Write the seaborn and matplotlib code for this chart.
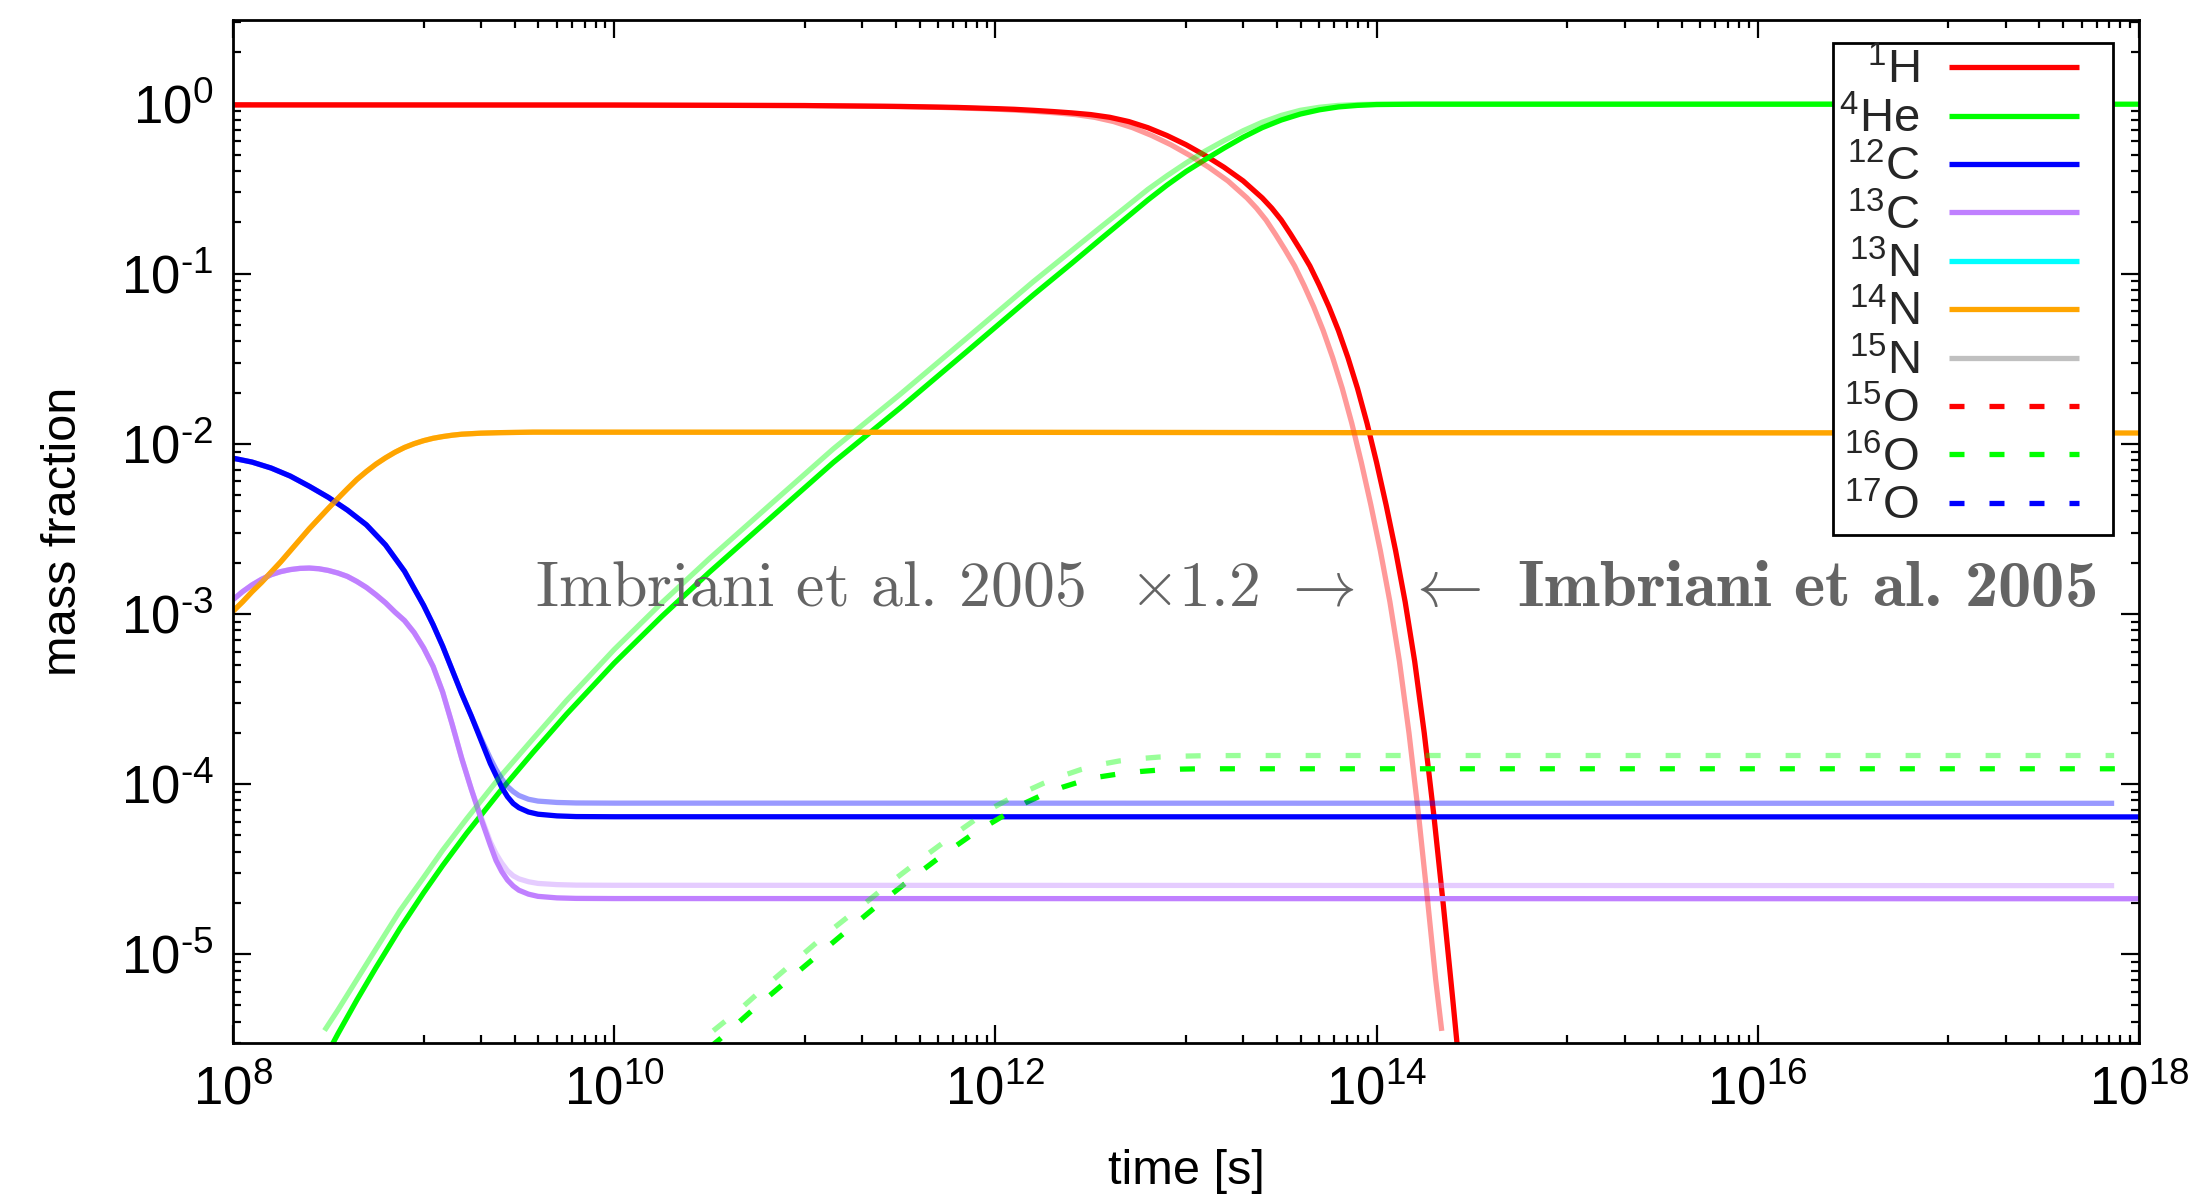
import numpy as np
import pandas as pd
import matplotlib
matplotlib.use("Agg")
import matplotlib.pyplot as plt
import seaborn as sns
from matplotlib.lines import Line2D
from matplotlib.legend_handler import HandlerLine2D
from matplotlib.ticker import FixedLocator, NullFormatter

# ---------------- data (log10 time [s], log10 mass fraction) ----------------
# Imbriani et al. 2005 (bright curves)
h1_logt = [8.0, 10.0, 11.0, 11.5, 11.8, 12.0, 12.1, 12.2, 12.3, 12.4, 12.5, 12.6, 12.7, 12.8, 12.9,
           13.0, 13.1, 13.2, 13.3, 13.4, 13.45, 13.5, 13.55, 13.6, 13.65, 13.7, 13.75, 13.8, 13.85,
           13.9, 13.95, 14.0, 14.05, 14.1, 14.15, 14.2, 14.25, 14.3, 14.35, 14.4, 14.45]
h1_logx = [-0.008, -0.009, -0.012, -0.017, -0.023, -0.03, -0.034, -0.04, -0.047, -0.055, -0.065,
           -0.081, -0.106, -0.142, -0.188, -0.242, -0.305, -0.375, -0.455, -0.555, -0.615, -0.685,
           -0.77, -0.86, -0.955, -1.07, -1.195, -1.335, -1.495, -1.675, -1.88, -2.11, -2.36, -2.63,
           -2.93, -3.28, -3.70, -4.18, -4.71, -5.27, -5.85]
he4_logt = [8.45, 8.55, 8.65, 8.75, 8.876, 9.0, 9.1, 9.226, 9.4, 9.574, 9.75, 10.0, 10.25, 10.5,
            10.837, 11.15, 11.5, 11.849, 12.198, 12.4, 12.549, 12.7, 12.8, 12.9, 13.0, 13.1, 13.2,
            13.3, 13.4, 13.5, 13.6, 13.7, 13.8, 13.9, 14.0, 14.2, 18.0]
he4_logx = [-5.68, -5.47, -5.27, -5.08, -4.85, -4.64, -4.48, -4.29, -4.045, -3.815, -3.59, -3.29,
            -3.015, -2.755, -2.42, -2.11, -1.79, -1.459, -1.126, -0.94, -0.80, -0.66, -0.567, -0.48,
            -0.40, -0.33, -0.262, -0.198, -0.142, -0.097, -0.062, -0.037, -0.02, -0.011, -0.006,
            -0.004, -0.004]
c12_logt = [8.0, 8.1, 8.2, 8.3, 8.4, 8.5, 8.6, 8.7, 8.8, 8.9, 9.0, 9.05, 9.1, 9.15, 9.2, 9.25, 9.3,
            9.35, 9.38, 9.41, 9.44, 9.47, 9.5, 9.55, 9.6, 9.7, 9.8, 10.0, 18.0]
c12_logx = [-2.085, -2.108, -2.143, -2.19, -2.25, -2.315, -2.39, -2.477, -2.595, -2.75, -2.95, -3.064,
            -3.19, -3.33, -3.47, -3.60, -3.74, -3.88, -3.95, -4.02, -4.075, -4.115, -4.14, -4.165,
            -4.178, -4.188, -4.192, -4.193, -4.194]
c13_logt = [8.0, 8.05, 8.1, 8.15, 8.2, 8.25, 8.3, 8.35, 8.4, 8.45, 8.5, 8.55, 8.6, 8.65, 8.7, 8.75,
            8.8, 8.85, 8.9, 8.95, 9.0, 9.05, 9.1, 9.15, 9.2, 9.25, 9.3, 9.35, 9.38, 9.41, 9.44, 9.47,
            9.5, 9.55, 9.6, 9.7, 9.8, 10.0, 18.0]
c13_logx = [-2.917, -2.87, -2.83, -2.797, -2.77, -2.752, -2.74, -2.733, -2.731, -2.735, -2.745, -2.76,
            -2.78, -2.81, -2.845, -2.888, -2.935, -2.99, -3.04, -3.11, -3.20, -3.31, -3.46, -3.65,
            -3.85, -4.03, -4.20, -4.36, -4.45, -4.515, -4.565, -4.60, -4.625, -4.648, -4.661, -4.670,
            -4.673, -4.674, -4.675]
n14_logt = [8.0, 8.05, 8.1, 8.15, 8.2, 8.25, 8.3, 8.35, 8.4, 8.45, 8.5, 8.55, 8.6, 8.65, 8.7, 8.75,
            8.8, 8.85, 8.9, 8.95, 9.0, 9.05, 9.1, 9.15, 9.2, 9.3, 9.4, 9.574, 12.0, 14.0, 18.0]
n14_logx = [-2.985, -2.93, -2.87, -2.815, -2.755, -2.695, -2.63, -2.565, -2.5, -2.44, -2.38, -2.322,
            -2.265, -2.21, -2.163, -2.12, -2.083, -2.05, -2.022, -2.0, -1.982, -1.968, -1.958, -1.95,
            -1.944, -1.938, -1.935, -1.932, -1.933, -1.935, -1.937]
o16_logt = [10.50, 10.555, 10.73, 10.896, 11.053, 11.219, 11.377, 11.543, 11.709, 11.884, 12.068,
            12.16, 12.252, 12.35, 12.453, 12.55, 12.654, 12.76, 12.864, 12.97, 13.073, 18.0]
o16_logx = [-5.55, -5.50, -5.325, -5.168, -5.021, -4.865, -4.718, -4.571, -4.43, -4.293, -4.170,
            -4.11, -4.062, -4.02, -3.984, -3.958, -3.94, -3.927, -3.918, -3.913, -3.911, -3.911]

# Imbriani et al. 2005 x1.2 (light curves)
h1b_logt = [8.0, 10.0, 11.0, 11.42, 11.72, 11.92, 12.02, 12.12, 12.22, 12.32, 12.42, 12.52, 12.62,
            12.72, 12.82, 12.92, 13.02, 13.12, 13.22, 13.32, 13.37, 13.42, 13.47, 13.52, 13.57, 13.62,
            13.67, 13.72, 13.77, 13.82, 13.87, 13.92, 13.97, 14.02, 14.07, 14.12, 14.17, 14.22,
            14.27, 14.31, 14.342]
h1b_logx = [-0.008, -0.009, -0.012, -0.017, -0.023, -0.03, -0.034, -0.04, -0.047, -0.055, -0.065,
            -0.081, -0.106, -0.142, -0.188, -0.242, -0.305, -0.375, -0.455, -0.555, -0.615, -0.685,
            -0.77, -0.86, -0.955, -1.07, -1.195, -1.335, -1.495, -1.675, -1.88, -2.11, -2.36, -2.63,
            -2.93, -3.28, -3.70, -4.18, -4.71, -5.15, -5.452]
he4b_logt = [8.48, 8.55, 8.65, 8.75, 8.876, 9.0, 9.1, 9.226, 9.4, 9.574, 9.75, 10.0, 10.25, 10.5,
             10.837, 11.15, 11.5, 11.849, 12.198, 12.4, 12.549, 12.7, 12.8, 12.9, 13.0, 13.1, 13.2,
             13.3, 13.4, 13.5, 13.6, 13.7, 13.8, 13.9, 14.0, 17.87]
he4b_logx = [-5.45, -5.33, -5.15, -4.97, -4.745, -4.55, -4.39, -4.205, -3.96, -3.735, -3.51, -3.21,
             -2.935, -2.675, -2.34, -2.03, -1.71, -1.38, -1.048, -0.865, -0.73, -0.595, -0.505,
             -0.425, -0.35, -0.28, -0.218, -0.16, -0.11, -0.07, -0.04, -0.022, -0.011, -0.006,
             -0.004, -0.004]
c12b_logt = [8.0, 8.1, 8.2, 8.3, 8.4, 8.5, 8.6, 8.7, 8.8, 8.9, 9.0, 9.05, 9.1, 9.15, 9.2, 9.25, 9.3,
             9.35, 9.38, 9.41, 9.44, 9.47, 9.5, 9.55, 9.6, 9.7, 9.8, 10.0, 17.87]
c12b_logx = [-2.085, -2.108, -2.143, -2.19, -2.25, -2.315, -2.39, -2.477, -2.595, -2.75, -2.95, -3.064,
             -3.19, -3.33, -3.47, -3.60, -3.73, -3.85, -3.915, -3.97, -4.015, -4.045, -4.068, -4.09,
             -4.101, -4.109, -4.112, -4.113, -4.114]
c13b_logt = [8.0, 8.05, 8.1, 8.15, 8.2, 8.25, 8.3, 8.35, 8.4, 8.45, 8.5, 8.55, 8.6, 8.65, 8.7, 8.75,
             8.8, 8.85, 8.9, 8.95, 9.0, 9.05, 9.1, 9.15, 9.2, 9.25, 9.3, 9.35, 9.38, 9.41, 9.44, 9.47,
             9.5, 9.55, 9.6, 9.7, 9.8, 10.0, 17.87]
c13b_logx = [-2.917, -2.87, -2.83, -2.797, -2.77, -2.752, -2.74, -2.733, -2.731, -2.735, -2.745, -2.76,
             -2.78, -2.81, -2.845, -2.888, -2.935, -2.99, -3.04, -3.11, -3.20, -3.31, -3.46, -3.65,
             -3.85, -4.03, -4.19, -4.34, -4.41, -4.465, -4.51, -4.54, -4.558, -4.575, -4.585, -4.592,
             -4.595, -4.596, -4.598]
n14b_logt = [8.0, 8.05, 8.1, 8.15, 8.2, 8.25, 8.3, 8.35, 8.4, 8.45, 8.5, 8.55, 8.6, 8.65, 8.7, 8.75,
             8.8, 8.85, 8.9, 8.95, 9.0, 9.05, 9.1, 9.15, 9.2, 9.3, 9.4, 9.574, 12.0, 14.0, 17.87]
n14b_logx = [-2.985, -2.93, -2.87, -2.815, -2.755, -2.695, -2.63, -2.565, -2.5, -2.44, -2.38, -2.322,
             -2.265, -2.21, -2.163, -2.12, -2.083, -2.05, -2.022, -2.0, -1.982, -1.968, -1.958, -1.95,
             -1.944, -1.938, -1.935, -1.932, -1.933, -1.935, -1.937]
o16b_logt = [10.52, 10.66, 10.817, 10.974, 11.132, 11.298, 11.464, 11.631, 11.797, 11.97, 12.07,
             12.163, 12.255, 12.347, 12.45, 12.549, 12.65, 12.759, 12.86, 12.968, 13.1, 13.3, 17.87]
o16b_logx = [-5.451, -5.325, -5.168, -5.017, -4.865, -4.718, -4.567, -4.424, -4.287, -4.15, -4.09,
             -4.042, -3.995, -3.954, -3.915, -3.886, -3.865, -3.851, -3.842, -3.837, -3.834, -3.833,
             -3.833]

# legend entries
legend_labels = [r"$^{1}$H", r"$^{4}$He", r"$^{12}$C", r"$^{13}$C", r"$^{13}$N",
                 r"$^{14}$N", r"$^{15}$N", r"$^{15}$O", r"$^{16}$O", r"$^{17}$O"]
legend_colors = ["#ff0000", "#00ff00", "#0000ff", "#c080ff", "#00ffff",
                 "#ffa500", "#c0c0c0", "#ff0000", "#00ff00", "#0000ff"]
legend_dashed = [False] * 7 + [True] * 3

x_major = [1e8, 1e10, 1e12, 1e14, 1e16, 1e18]
x_major_labels = [r"$10^{8}$", r"$10^{10}$", r"$10^{12}$", r"$10^{14}$", r"$10^{16}$", r"$10^{18}$"]
y_major = [1e0, 1e-1, 1e-2, 1e-3, 1e-4, 1e-5]
y_major_labels = [r"$10^{0}$", "$10^{\u2010" + "1}$", "$10^{\u2010" + "2}$",
                  "$10^{\u2010" + "3}$", "$10^{\u2010" + "4}$", "$10^{\u2010" + "5}$"]

# ---------------- style ----------------
sns.set_theme(style="ticks")
plt.rcParams["font.family"] = ["Liberation Sans", "DejaVu Sans"]
plt.rcParams["mathtext.fontset"] = "custom"
plt.rcParams["mathtext.rm"] = "Liberation Sans"
plt.rcParams["mathtext.it"] = "Liberation Sans:italic"
plt.rcParams["mathtext.bf"] = "Liberation Sans:bold"
plt.rcParams["mathtext.sf"] = "Liberation Sans"
plt.rcParams["mathtext.fallback"] = "cm"

LW = 3.8
DASH = (15 / 1.389 / LW, 25 / 1.389 / LW)

fig = plt.figure(figsize=(21.92, 11.94), dpi=100)
ax = fig.add_axes([0.1063, 0.1265, 0.8695, 0.8568])
ax.set_xscale("log")
ax.set_yscale("log")


def draw(logt, logx, color, alpha=1.0, dashed=False):
    df = pd.DataFrame({"t": 10.0 ** np.asarray(logt), "X": 10.0 ** np.asarray(logx)})
    sns.lineplot(data=df, x="t", y="X", ax=ax, color=color, linewidth=LW, alpha=alpha,
                 legend=False, estimator=None, sort=False)
    line = ax.lines[-1]
    if dashed:
        line.set_dashes(DASH)
    line.set_solid_capstyle("butt")
    line.set_dash_capstyle("butt")
    line.set_solid_joinstyle("round")


# bright curves
draw(h1_logt, h1_logx, "#ff0000")
draw(he4_logt, he4_logx, "#00ff00")
draw(c12_logt, c12_logx, "#0000ff")
draw(c13_logt, c13_logx, "#c080ff")
draw(n14_logt, n14_logx, "#ffa500")
draw(o16_logt, o16_logx, "#00ff00", dashed=True)
# light curves (x1.2)
A = 0.4
draw(h1b_logt, h1b_logx, "#ff0000", alpha=A)
draw(he4b_logt, he4b_logx, "#00ff00", alpha=A)
draw(c12b_logt, c12b_logx, "#0000ff", alpha=A)
draw(c13b_logt, c13b_logx, "#c080ff", alpha=A)
draw(n14b_logt, n14b_logx, "#ffa500", alpha=A)
draw(o16b_logt, o16b_logx, "#00ff00", alpha=A, dashed=True)

ax.set_xlim(1e8, 1e18)
ax.set_ylim(3.0e-6, 3.1)

ax.set_xticks(x_major)
ax.set_xticklabels(x_major_labels)
ax.xaxis.set_minor_locator(FixedLocator([m * 10.0 ** e for e in (9, 11, 13, 15, 17) for m in range(1, 10)]))
ax.xaxis.set_minor_formatter(NullFormatter())
ax.set_yticks(y_major)
ax.set_yticklabels(y_major_labels)
ax.yaxis.set_minor_locator(FixedLocator([m * 10.0 ** e for e in range(-6, 1) for m in range(2, 10)]))
ax.yaxis.set_minor_formatter(NullFormatter())

ax.tick_params(which="both", direction="in", top=True, right=True, width=1.6, color="black",
               labelsize=38, labelcolor="black")
ax.tick_params(which="major", length=13)
ax.tick_params(which="minor", length=6)
ax.tick_params(axis="x", pad=16)
ax.tick_params(axis="y", pad=14)
for s in ax.spines.values():
    s.set_linewidth(2.0)
    s.set_color("black")

ax.set_xlabel("time [s]", fontsize=35, color="black")
ax.set_ylabel("mass fraction", fontsize=35, color="black")
ax.xaxis.set_label_coords(0.5, -0.104)
ax.yaxis.set_label_coords(-0.077, 0.5)

# annotations
ax.text(10 ** 13.887, 10 ** -2.954,
        r"Imbriani et al. 2005  $\times$1.2 $\rightarrow$",
        family="cmr10", math_fontfamily="cm", fontsize=46, color="#646464",
        ha="right", va="baseline")
ax.text(10 ** 14.15, 10 ** -2.954,
        r"$\leftarrow$ Imbriani et al. 2005",
        family="cmb10", math_fontfamily="cm", fontsize=48, color="#646464",
        ha="left", va="baseline")


# legend
class PaddedLine(HandlerLine2D):
    """Draw the legend sample over the left part of the handle box only."""
    def create_artists(self, legend, orig_handle, xdescent, ydescent, width, height,
                       fontsize, trans):
        return super().create_artists(legend, orig_handle, xdescent, ydescent, width * 0.82,
                                      height, fontsize, trans)


handles = []
for c, d in zip(legend_colors, legend_dashed):
    h = Line2D([], [], color=c, linewidth=LW, solid_capstyle="butt", dash_capstyle="butt")
    if d:
        h.set_dashes(DASH)
    handles.append(h)
FS = 34
hl_px = 158.0
leg = ax.legend(handles, legend_labels, loc="upper right", bbox_to_anchor=(0.9864, 0.9775),
                markerfirst=False, fontsize=FS, handlelength=hl_px / 1.389 / FS,
                handletextpad=21.6 / FS, borderpad=0.12, labelspacing=0.07, frameon=True,
                fancybox=False, borderaxespad=0.0, handler_map={Line2D: PaddedLine()})
fr = leg.get_frame()
fr.set_edgecolor("black")
fr.set_linewidth(2.0)
fr.set_facecolor("white")
fr.set_alpha(1.0)

fig.savefig("out.png", dpi=100)
